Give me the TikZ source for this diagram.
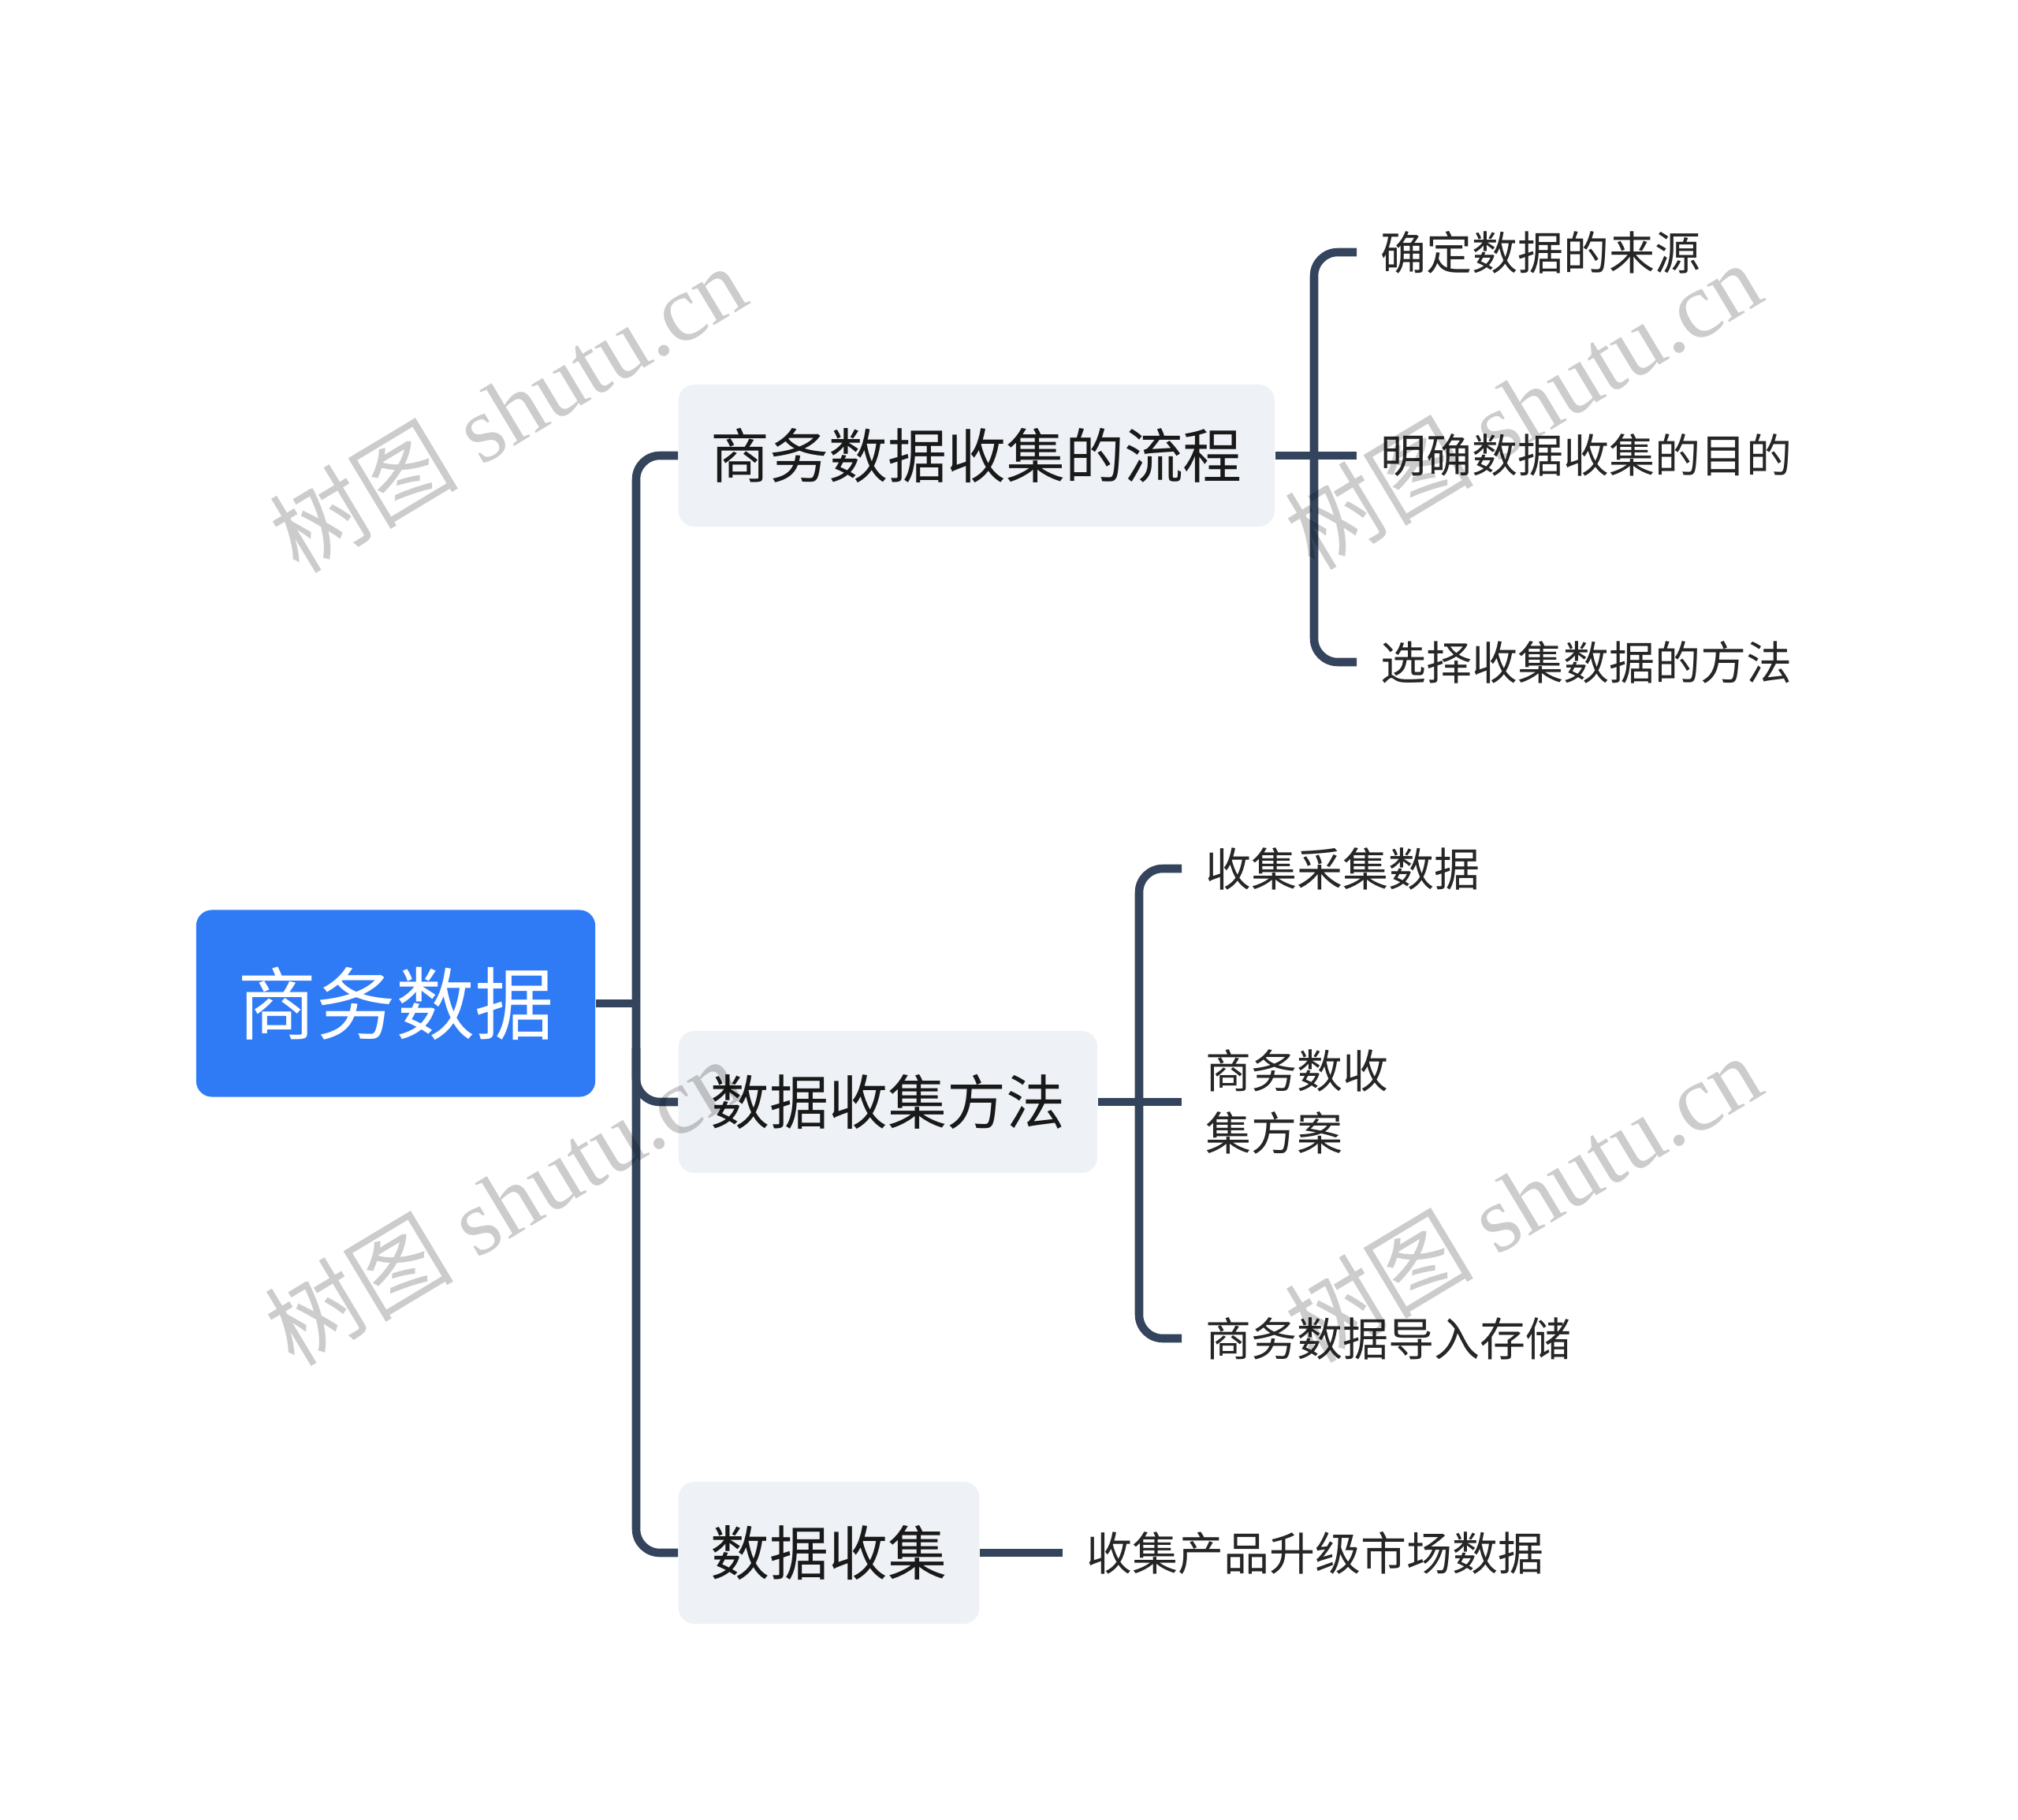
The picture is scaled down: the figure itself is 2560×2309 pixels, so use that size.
\documentclass[tikz,border=0pt]{standalone}
\usepackage{fontspec}
\setmainfont{Noto Sans CJK SC}
\newfontfamily\wmfont{Liberation Serif}
\newfontfamily\wmcjk{Noto Sans CJK SC}
\definecolor{rootblue}{HTML}{2F7BF6}
\definecolor{topicgray}{HTML}{EEF1F5}
\definecolor{linkslate}{HTML}{33445C}

\begin{document}
\begin{tikzpicture}[x=0.01cm,y=-0.01cm,
    root/.style={fill=rootblue,text=white,rounded corners=0.2cm,
        minimum width=5.06cm,minimum height=2.37cm,inner sep=0pt,
        font=\fontsize{28.5}{34}\selectfont},
    topic/.style={fill=topicgray,text=black!90,rounded corners=0.2cm,anchor=west,
        minimum height=1.8cm,inner xsep=0.41cm,inner ysep=0pt,
        font=\fontsize{21.3}{26}\selectfont},
    sub/.style={anchor=west,inner xsep=0.3cm,inner ysep=0pt,text=black!85,
        align=left,font=\fontsize{16.5}{22.5}\selectfont},
    link/.style={draw=linkslate,line width=3pt},
    watermark/.style={text=black,text opacity=0.2,rotate=31,
        font=\wmfont\fontsize{34}{40}\selectfont}]
        \useasboundingbox (0,0) rectangle (2560,2309);

        % Root
        \node[root] (root) at (502,1273) {商务数据};

        % Main topics
        \node[topic] (b1) at (860,578) {商务数据收集的流程};
        \node[topic] (b2) at (860,1398) {数据收集方法};
        \node[topic] (b3) at (860,1970) {数据收集};

        % Trunk
        \coordinate (t0) at (807,1273);
        \coordinate (t2) at (807,1330);
        \draw[link] (root.east) -- (t0);
        \draw[link,rounded corners=0.3cm] (b1.west) -| (t0) |- (b3.west);
        \draw[link,rounded corners=0.3cm] (t2) |- (b2.west);

        % Steps of the process
        \node[sub] (c11) at (1721,320) {确定数据的来源};
        \node[sub] (c12) at (1721,578) {明确数据收集的目的};
        \node[sub] (c13) at (1721,840) {选择收集数据的方法};
        \coordinate (s1) at (1667,578);
        \draw[link] (b1.east) -- (c12.west);
        \draw[link,rounded corners=0.3cm] (c11.west) -| (s1) |- (c13.west);

        % Methods
        \node[sub] (c21) at (1499,1102) {收集采集数据};
        \node[sub] (c22) at (1499,1398) {商务数收\\集方案};
        \node[sub] (c23) at (1499,1698) {商务数据导入存储};
        \coordinate (s2) at (1445,1398);
        \draw[link] (b2.east) -- (c22.west);
        \draw[link,rounded corners=0.3cm] (c21.west) -| (s2) |- (c23.west);

        % Collection
        \node[sub] (c31) at (1348,1970) {收集产品升级市场数据};
        \draw[link] (b3.east) -- (c31.west);

        % Watermarks
        \node[watermark] (wm1) at (644,518) {{\wmcjk 树图} shutu.cn};
        \node[watermark] (wm2) at (1932,514) {{\wmcjk 树图} shutu.cn};
        \node[watermark] (wm3) at (638,1524) {{\wmcjk 树图} shutu.cn};
        \node[watermark] (wm4) at (1932,1520) {{\wmcjk 树图} shutu.cn};
    \end{tikzpicture}
\end{document}
